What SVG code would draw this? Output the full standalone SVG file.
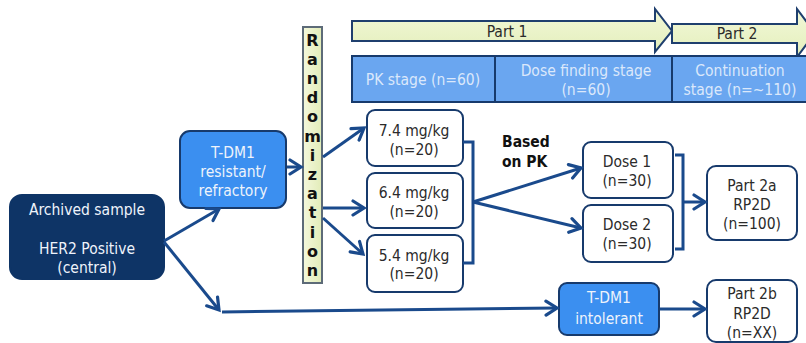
<svg xmlns="http://www.w3.org/2000/svg" width="806" height="343" viewBox="0 0 806 343">
<defs>
<linearGradient id="gy" x1="0" y1="0" x2="1" y2="0">
<stop offset="0" stop-color="#f4f8dc"/><stop offset="1" stop-color="#e2ecb8"/>
</linearGradient>
<linearGradient id="gp" x1="0" y1="0" x2="0" y2="1">
<stop offset="0" stop-color="#f2f8d8"/><stop offset="1" stop-color="#e4efbc"/>
</linearGradient>
<marker id="ah" markerUnits="userSpaceOnUse" markerWidth="18" markerHeight="18" refX="13" refY="9" orient="auto">
<path d="M2,2 L13,9 L2,16" fill="none" stroke="#1a4a8c" stroke-width="3.2" stroke-linejoin="miter" stroke-linecap="round"/>
</marker>
<style>
.t{font-family:"DejaVu Sans Condensed","DejaVu Sans",sans-serif;font-stretch:condensed;font-size:15.5px;text-anchor:middle}
.w{fill:#eef3fb}
.d{fill:#2b2b2b}
.s{fill:#dbe8fb}
.b{font-weight:bold}
.box{fill:#ffffff;stroke:#173a6c;stroke-width:2}
.navy{fill:#0e3466;stroke:#0e3466;stroke-width:2}
.blue{fill:#3b8ff0;stroke:#173a6c;stroke-width:2}
.c{fill:none;stroke:#1a4a8c;stroke-width:3}
.ca{fill:none;stroke:#1a4a8c;stroke-width:3;marker-end:url(#ah)}
</style>
</defs>

<g id="part1">
<polygon points="352,21 655,21 655,9 672,31 655,52 655,41 352,41" fill="url(#gp)" stroke="#1f3f6e" stroke-width="2"/>
<text class="t d" x="507" y="37">Part 1</text>
</g>
<g id="part2">
<polygon points="672,24 797,24 797,9 815,33 797,57 797,43 672,43" fill="url(#gp)" stroke="#1f3f6e" stroke-width="2"/>
<text class="t d" x="737" y="39">Part 2</text>
</g>

<g id="stages">
<rect x="352" y="56" width="470" height="46" fill="#6aa6f0" stroke="#173a6c" stroke-width="2"/>
<line x1="495" y1="56" x2="495" y2="102" stroke="#173a6c" stroke-width="2"/>
<line x1="672" y1="56" x2="672" y2="102" stroke="#173a6c" stroke-width="2"/>
<text class="t s" x="423" y="85">PK stage (n=60)</text>
<text class="t s" x="586" y="76">Dose finding stage</text>
<text class="t s" x="586" y="95">(n=60)</text>
<text class="t s" x="740" y="76">Continuation</text>
<text class="t s" x="740" y="95">stage (n=~110)</text>
</g>

<g id="randomization">
<rect x="303" y="27" width="19" height="256" fill="url(#gy)" stroke="#5d6b78" stroke-width="2"/>
<g class="t b" style="font-family:'DejaVu Sans',sans-serif;font-stretch:normal;font-size:16px;fill:#111">
<text x="312.5" y="46">R</text>
<text x="312.5" y="65">a</text>
<text x="312.5" y="84">n</text>
<text x="312.5" y="103">d</text>
<text x="312.5" y="122">o</text>
<text x="312.5" y="142">m</text>
<text x="312.5" y="161">i</text>
<text x="312.5" y="180">z</text>
<text x="312.5" y="199">a</text>
<text x="312.5" y="218">t</text>
<text x="312.5" y="238">i</text>
<text x="312.5" y="257">o</text>
<text x="312.5" y="276">n</text>
</g>
</g>

<g id="archived">
<rect class="navy" x="10" y="195" width="154" height="84" rx="12"/>
<text class="t w" x="87" y="215">Archived sample</text>
<text class="t w" x="87" y="254">HER2 Positive</text>
<text class="t w" x="87" y="273">(central)</text>
</g>

<g id="resistant">
<rect class="blue" x="180" y="131" width="106" height="77" rx="10"/>
<text class="t w" x="233" y="158">T-DM1</text>
<text class="t w" x="233" y="177">resistant/</text>
<text class="t w" x="233" y="196">refractory</text>
</g>

<g id="dose74">
<rect class="box" x="367" y="110" width="96" height="56" rx="8"/>
<text class="t d" x="414" y="136">7.4 mg/kg</text>
<text class="t d" x="414" y="155">(n=20)</text>
</g>
<g id="dose64">
<rect class="box" x="367" y="173" width="96" height="55" rx="8"/>
<text class="t d" x="414" y="198">6.4 mg/kg</text>
<text class="t d" x="414" y="217">(n=20)</text>
</g>
<g id="dose54">
<rect class="box" x="367" y="235" width="96" height="57" rx="8"/>
<text class="t d" x="414" y="261">5.4 mg/kg</text>
<text class="t d" x="414" y="279">(n=20)</text>
</g>

<g id="basedpk">
<text class="t b" x="502" y="147" style="text-anchor:start;fill:#111">Based</text>
<text class="t b" x="502" y="167" style="text-anchor:start;fill:#111">on PK</text>
</g>

<g id="dose1">
<rect class="box" x="583" y="142" width="90" height="56" rx="8"/>
<text class="t d" x="627" y="167">Dose 1</text>
<text class="t d" x="627" y="186">(n=30)</text>
</g>
<g id="dose2">
<rect class="box" x="583" y="205" width="90" height="57" rx="8"/>
<text class="t d" x="627" y="230">Dose 2</text>
<text class="t d" x="627" y="249">(n=30)</text>
</g>

<g id="part2a">
<rect class="box" x="707" y="166" width="90" height="74" rx="9"/>
<text class="t d" x="752" y="191">Part 2a</text>
<text class="t d" x="752" y="210">RP2D</text>
<text class="t d" x="752" y="229">(n=100)</text>
</g>

<g id="intolerant">
<rect class="blue" x="559" y="283" width="100" height="52" rx="8"/>
<text class="t w" x="609" y="303">T-DM1</text>
<text class="t w" x="609" y="324">intolerant</text>
</g>

<g id="part2b">
<rect class="box" x="707" y="280" width="90" height="62" rx="9"/>
<text class="t d" x="752" y="299">Part 2b</text>
<text class="t d" x="752" y="319">RP2D</text>
<text class="t d" x="752" y="338">(n=XX)</text>
</g>

<g id="connectors">
<line class="ca" x1="164" y1="241" x2="219" y2="209"/>
<line class="ca" x1="164" y1="242" x2="219" y2="310"/>
<line class="ca" x1="222" y1="312" x2="557" y2="308"/>
<line class="ca" x1="287" y1="167" x2="301" y2="167"/>
<line class="ca" x1="323" y1="157" x2="364" y2="128"/>
<line class="ca" x1="323" y1="208" x2="364" y2="208"/>
<line class="ca" x1="323" y1="218" x2="363" y2="254"/>
<polyline class="c" points="463,142 473,142 473,263 463,263"/>
<line class="ca" x1="473" y1="202" x2="581" y2="168"/>
<line class="ca" x1="473" y1="202" x2="581" y2="228"/>
<polyline class="c" points="675,155 683,155 683,249 675,249"/>
<line class="ca" x1="683" y1="202" x2="705" y2="202"/>
<line class="ca" x1="660" y1="309" x2="705" y2="309"/>
</g>
</svg>
